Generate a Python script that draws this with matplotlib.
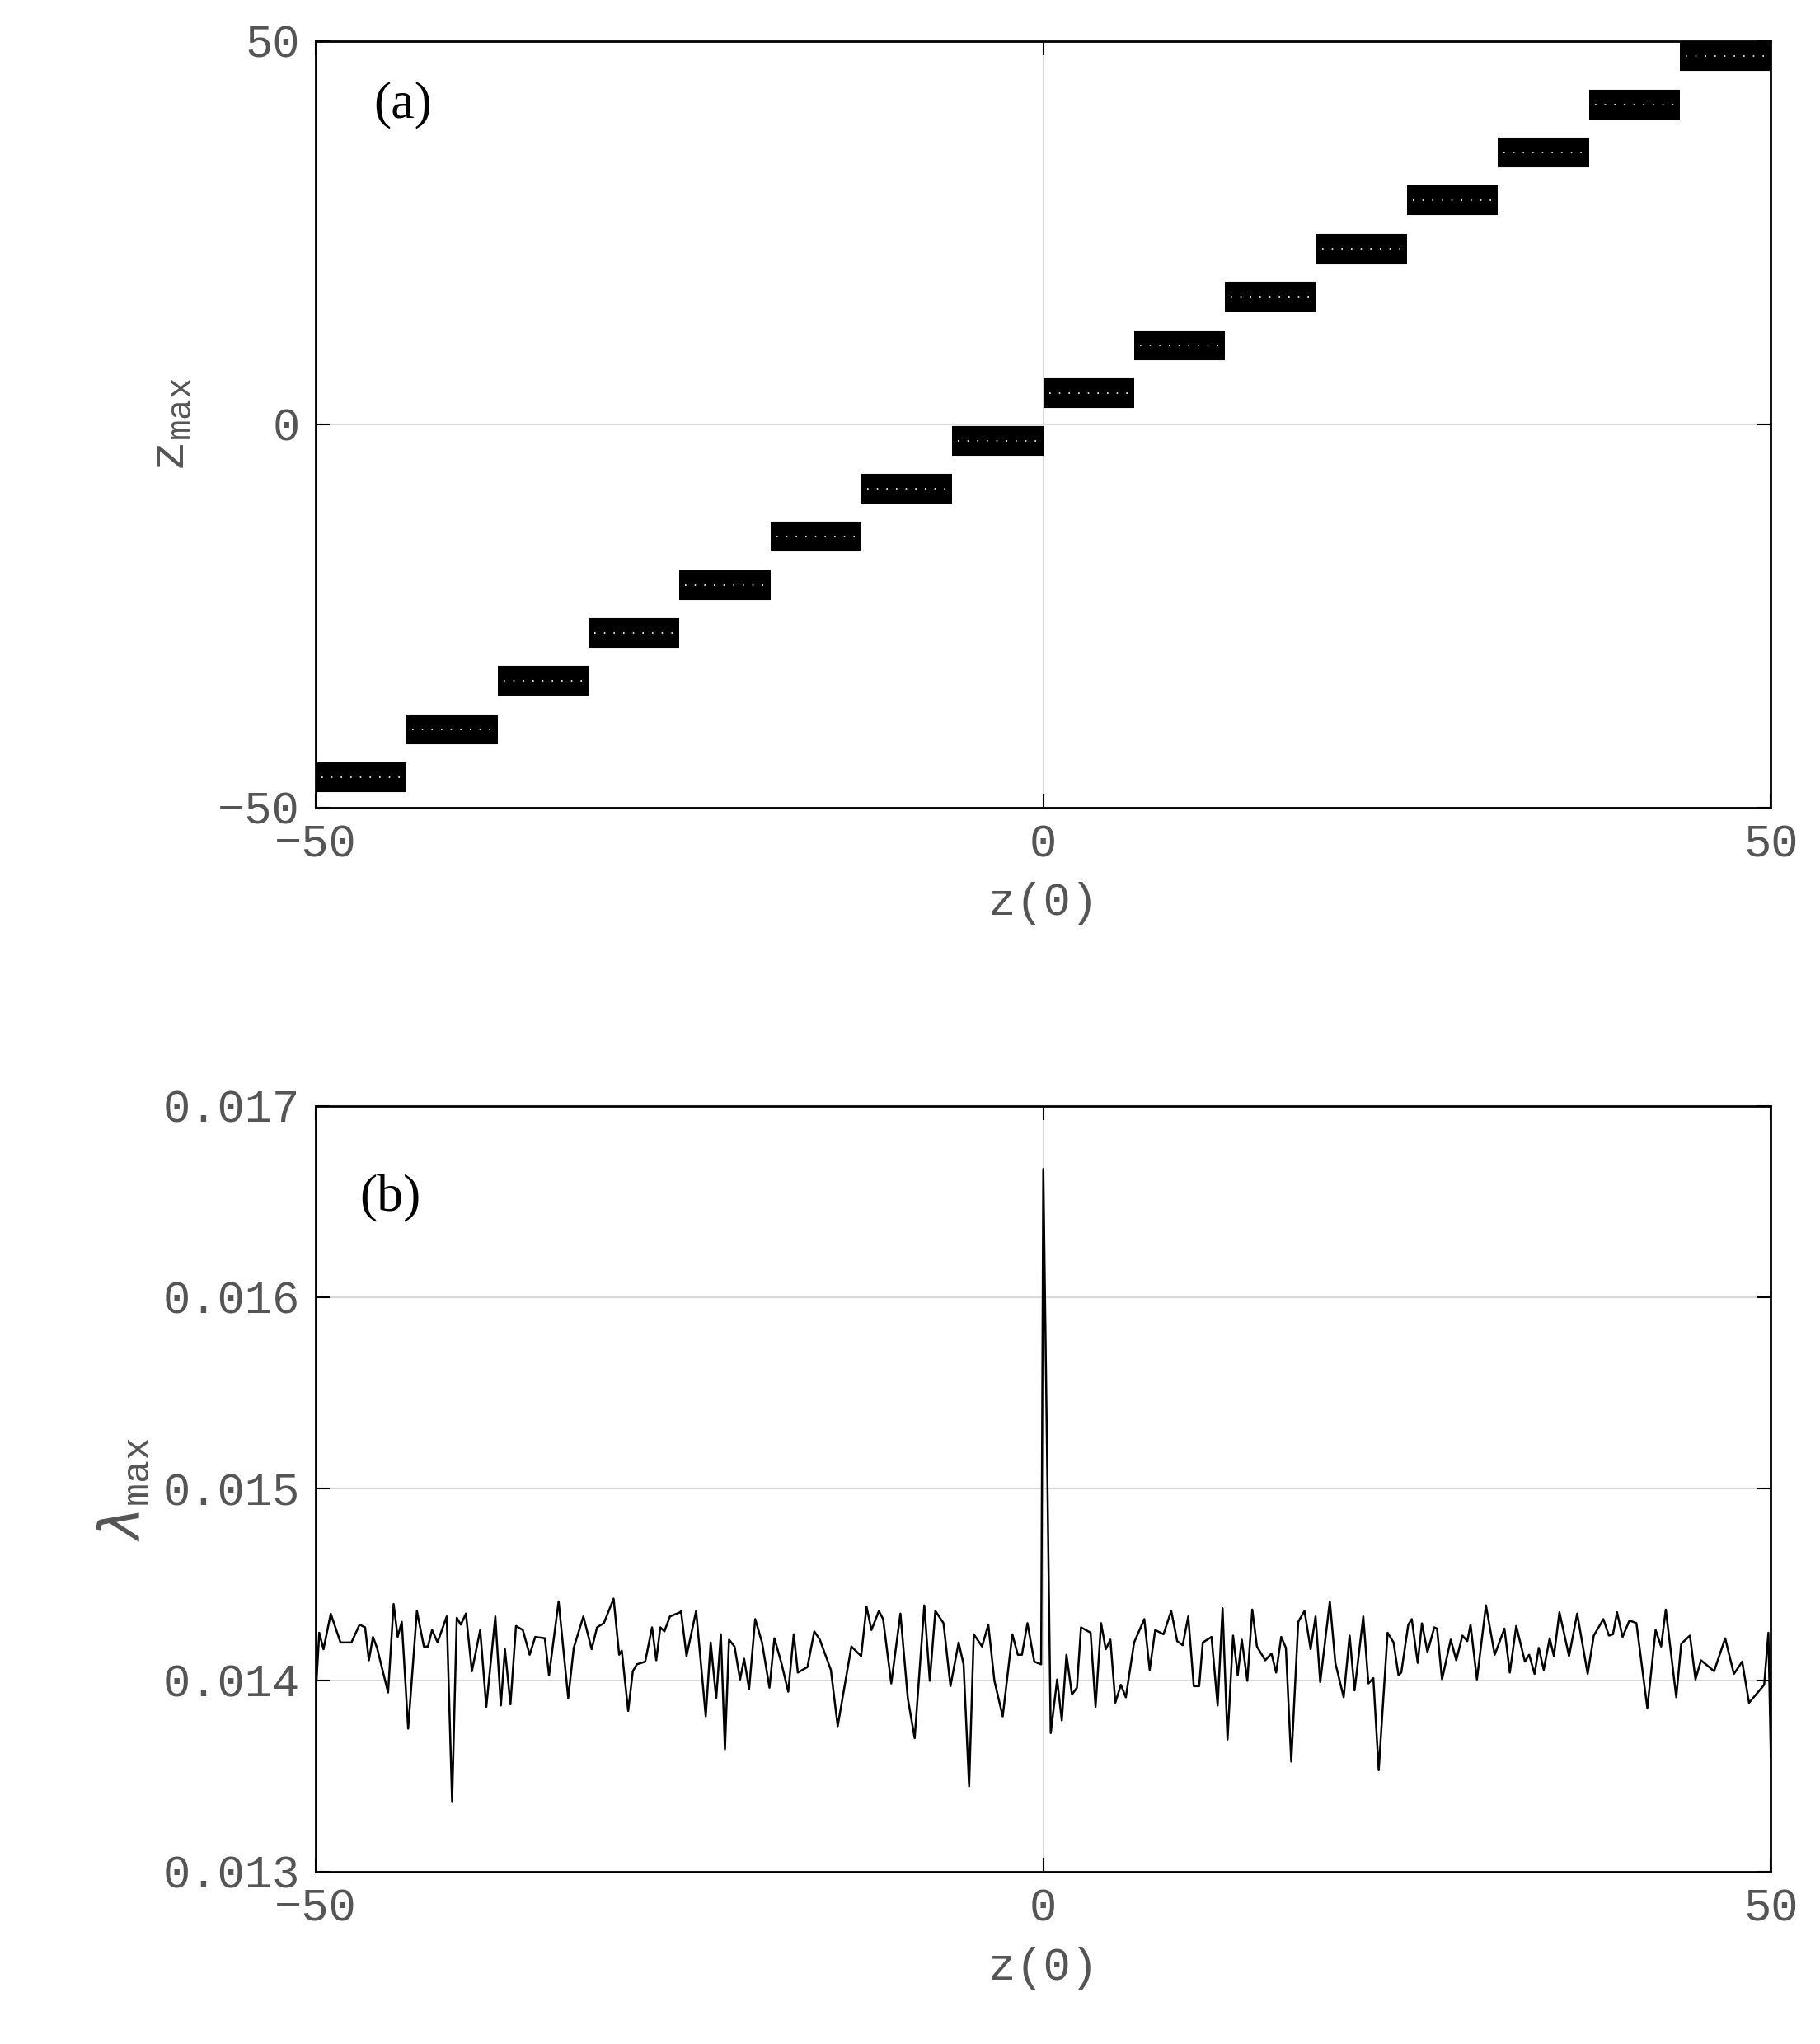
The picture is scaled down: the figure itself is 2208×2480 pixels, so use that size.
import matplotlib.pyplot as plt
import numpy as np

# panel (a): step levels of z_max, one per bin of z(0)
step_edges = np.linspace(-50, 50, 17)
step_levels = [-46.1, -39.8, -33.5, -27.3, -21.0, -14.7, -8.4, -2.2,
               4.0, 10.3, 16.6, 22.9, 29.2, 35.4, 41.7, 48.0]

# panel (b): lambda_max (x1e-3) versus z(0)
lam_x = [-49.95, -49.76, -49.47, -48.97, -48.3, -47.55, -46.99, -46.61, -46.35, -46.07,
         -45.79, -45.03, -44.65, -44.37, -44.09, -43.65, -43.05, -42.57, -42.29, -42.01,
         -41.63, -41.0, -40.63, -40.31, -40.03, -39.68, -39.27, -38.7, -38.28, -37.66,
         -37.28, -37.0, -36.62, -36.24, -35.77, -35.3, -34.92, -34.26, -33.97, -33.31,
         -32.65, -32.27, -31.61, -31.04, -30.67, -30.2, -29.53, -29.15, -28.97, -28.53,
         -28.21, -27.93, -27.36, -26.89, -26.6, -26.32, -26.04, -25.66, -24.9,
         -25.0 + 0.05, -24.52, -23.86, -23.2, -22.86, -22.48, -22.16, -21.88, -21.6, -21.22,
         -20.84, -20.56, -20.22, -19.8, -19.33, -18.82, -18.48, -18.0, -17.53, -17.15,
         -16.87, -16.21, -15.74, -15.36, -14.6, -14.13, -13.19, -12.52, -12.15, -11.81,
         -11.3, -11.01, -10.45, -9.82, -9.31, -8.84, -8.18, -7.8, -7.42, -6.86,
         -6.38, -5.82, -5.48, -5.1, -4.78, -4.21, -3.78, -3.36, -2.79, -2.13,
         -1.75, -1.47, -1.09, -0.62, -0.15, 0.0,
         0.51, 0.95, 1.27, 1.59, 1.97, 2.31, 2.59, 3.25, 3.59, 3.97,
         4.29, 4.61, 4.95, 5.33, 5.67, 6.24, 6.94, 7.31, 7.69, 8.26,
         8.79, 9.2, 9.58, 9.96, 10.34, 10.71, 10.96, 11.56, 11.98, 12.32,
         12.66, 13.04, 13.36, 13.64, 14.02, 14.36, 14.68, 15.25, 15.68, 16.0,
         16.35, 16.67, 17.04, 17.52, 17.95, 18.37, 18.71, 19.03, 19.69, 20.07,
         20.64, 21.05, 21.39, 21.99, 22.34, 22.68, 23.05, 23.66, 24.07, 24.41,
         24.6, 25.08, 25.32, 25.73, 26.02, 26.4, 26.87, 27.06, 27.4, 28.0,
         28.38, 28.8, 29.14, 29.36, 29.8, 30.42, 31.02, 31.69, 32.06, 32.5,
         33.1, 33.39, 33.76, 34.05, 34.39, 34.8, 35.09, 35.47, 36.13, 36.69,
         37.41, 37.83, 38.49, 38.87, 39.15, 39.43, 39.81, 40.28, 40.76, 41.51,
         42.08, 42.46, 42.78, 43.5, 43.84, 44.44, 44.82, 45.2, 46.1, 46.86,
         47.46, 48.03, 48.5, 49.54, 49.83, 50.0]
lam_y = [13.997, 14.248, 14.162, 14.347, 14.197, 14.197, 14.290, 14.276, 14.104, 14.226,
         14.169, 13.936, 14.398, 14.226, 14.305, 13.747, 14.362, 14.176, 14.176, 14.262,
         14.198, 14.333, 13.368, 14.326, 14.290, 14.348, 14.047, 14.262, 13.861, 14.333,
         13.868, 14.162, 13.874, 14.283, 14.262, 14.133, 14.226, 14.219, 14.026, 14.412,
         13.907, 14.169, 14.333, 14.162, 14.276, 14.298, 14.426, 14.133, 14.155, 13.840,
         14.047, 14.083, 14.097, 14.276, 14.104, 14.276, 14.255, 14.333, 14.362,
         14.355, 14.126, 14.362, 13.811, 14.197, 13.904, 14.240, 13.639, 14.212, 14.176,
         14.004, 14.112, 13.954, 14.319, 14.197, 13.961, 14.219, 14.090, 13.940, 14.240,
         14.040, 14.069, 14.255, 14.212, 14.054, 13.760, 14.176, 14.126, 14.384, 14.262,
         14.362, 14.319, 13.983, 14.348, 13.904, 13.697, 14.391, 13.997, 14.362, 14.298,
         13.969, 14.197, 14.083, 13.446, 14.240, 14.176, 14.290, 13.997, 13.811, 14.240,
         14.133, 14.133, 14.298, 14.097, 14.083, 16.67,
         13.724, 14.004, 13.790, 14.133, 13.925, 13.961, 14.276, 14.248, 13.861, 14.298,
         14.162, 14.212, 13.883, 13.976, 13.911, 14.197, 14.319, 14.054, 14.262, 14.240,
         14.362, 14.204, 14.183, 14.333, 13.969, 13.969, 14.197, 14.226, 13.868, 14.376,
         13.690, 14.233, 14.026, 14.212, 13.997, 14.369, 14.176, 14.104, 14.140, 14.040,
         14.226, 14.169, 13.575, 14.305, 14.362, 14.162, 14.333, 13.990, 14.412, 14.090,
         13.911, 14.233, 13.947, 14.333, 13.983, 14.011, 13.530, 14.248, 14.197, 14.026,
         14.040, 14.290, 14.319, 14.090, 14.297, 14.147, 14.276, 14.269, 14.004, 14.212,
         14.104, 14.233, 14.204, 14.290, 14.004, 14.391, 14.133, 14.269, 14.040, 14.283,
         14.097, 14.133, 14.033, 14.169, 14.054, 14.219, 14.126, 14.355, 14.126, 14.348,
         14.033, 14.233, 14.319, 14.233, 14.240, 14.355, 14.226, 14.312, 14.298, 13.854,
         14.262, 14.176, 14.369, 13.911, 14.190, 14.233, 14.004, 14.104, 14.047, 14.219,
         14.033, 14.097, 13.882, 13.976, 14.248, 13.599]
lam_x = np.array(lam_x)
lam_y = np.array(lam_y) * 1e-3
order = np.argsort(lam_x, kind='stable')

mono = 'Liberation Mono'
serif = 'Liberation Serif'
tick_col = '#555555'

fig = plt.figure(figsize=(22.08, 24.8), dpi=100)
ax1 = fig.add_axes([0.1735, 0.605, 0.7995, 0.375])
ax2 = fig.add_axes([0.1735, 0.0843, 0.7995, 0.3747])


def style(ax):
    ax.tick_params(direction='in', length=12, width=1.5, top=True, right=True,
                   labelsize=40, labelcolor=tick_col, pad=14)
    for lab in ax.get_xticklabels() + ax.get_yticklabels():
        lab.set_fontfamily(mono)
    for s in ax.spines.values():
        s.set_linewidth(2)
    ax.grid(True, color='#d8d8d8', linewidth=1.5)
    ax.set_axisbelow(True)


# (a)
for i, lev in enumerate(step_levels):
    ax1.plot([step_edges[i], step_edges[i + 1]], [lev, lev], color='black',
             linewidth=26, solid_capstyle='butt')
    ax1.plot([step_edges[i] + 0.4, step_edges[i + 1] - 0.4], [lev, lev], color='white',
             linewidth=1.2, linestyle=(0, (1, 6)))
ax1.set_xlim(-50, 50)
ax1.set_ylim(-50, 50)
ax1.set_xticks([-50, 0, 50])
ax1.set_yticks([-50, 0, 50])
style(ax1)
ax1.set_xlabel('z(0)', fontsize=40, fontfamily=mono, color=tick_col, labelpad=14)
ax1.set_ylabel(r'z$_{\mathregular{max}}$', fontsize=44, fontfamily=mono, color=tick_col,
               labelpad=20)
ax1.text(-46, 40, '(a)', fontsize=46, fontfamily=serif)

# (b)
ax2.plot(lam_x[order], lam_y[order], color='black', linewidth=1.8)
ax2.set_xlim(-50, 50)
ax2.set_ylim(0.013, 0.017)
ax2.set_xticks([-50, 0, 50])
ax2.set_yticks([0.013, 0.014, 0.015, 0.016, 0.017])
ax2.set_yticklabels(['0.013', '0.014', '0.015', '0.016', '0.017'])
style(ax2)
ax2.set_xlabel('z(0)', fontsize=40, fontfamily=mono, color=tick_col, labelpad=14)
ax2.set_ylabel(r'$\lambda$$_{\mathregular{max}}$', fontsize=48, fontfamily=mono,
               color=tick_col, labelpad=10)
ax2.text(-47, 0.01645, '(b)', fontsize=46, fontfamily=serif)

fig.savefig('out.png', dpi=100)
